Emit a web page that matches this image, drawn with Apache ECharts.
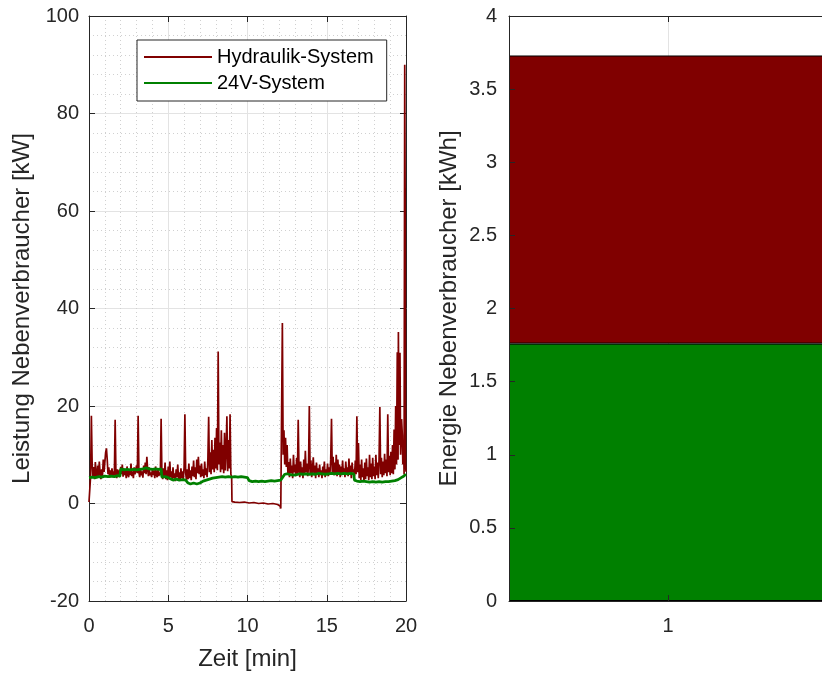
<!DOCTYPE html>
<html><head><meta charset="utf-8">
<script src="https://cdn.jsdelivr.net/npm/echarts@6/dist/echarts.min.js"></script>
<style>html,body{margin:0;padding:0;background:#fff}#c{width:822px;height:678px}</style>
</head><body><div id="c"></div>
<script>
// ---- data ----
const seriesNames = ['Hydraulik-System', '24V-System'];
// Hydraulik-System power [kW] vs. time [min]
const hydraulik = [
[0.00,0.3],[0.05,0.5],[0.10,5.5],[0.15,18.0],[0.20,8.0],[0.25,5.5],[0.30,7.5],[0.35,5.0],[0.40,8.5],[0.45,6.0],
[0.50,5.2],[0.55,7.8],[0.60,5.5],[0.65,8.6],[0.70,6.2],[0.75,5.0],[0.80,7.0],[0.85,5.6],[0.90,9.0],[0.95,6.5],
[1.00,8.5],[1.05,10.5],[1.10,11.3],[1.15,9.0],[1.20,6.0],[1.25,7.4],[1.30,5.3],[1.35,6.8],[1.40,5.6],[1.45,7.2],
[1.50,5.4],[1.55,6.6],[1.60,5.8],[1.65,17.2],[1.70,6.0],[1.75,5.2],[1.80,7.0],[1.85,5.6],[1.90,6.8],[1.95,5.4],
[2.00,7.5],[2.05,6.0],[2.10,8.0],[2.15,5.5],[2.20,7.2],[2.25,5.8],[2.30,6.8],[2.35,5.2],[2.40,7.6],[2.45,6.0],
[2.50,5.4],[2.55,7.0],[2.60,5.8],[2.65,8.2],[2.70,5.6],[2.75,6.6],[2.80,5.2],[2.85,7.4],[2.90,6.0],[2.95,5.6],
[3.00,7.8],[3.05,6.2],[3.10,18.0],[3.15,6.4],[3.20,5.4],[3.25,7.2],[3.30,5.8],[3.35,6.6],[3.40,5.3],[3.45,7.8],
[3.50,6.2],[3.55,8.4],[3.60,6.0],[3.65,9.6],[3.70,7.0],[3.75,5.6],[3.80,7.4],[3.85,5.8],[3.90,6.4],[3.95,5.4],
[4.00,7.2],[4.05,5.8],[4.10,6.8],[4.15,5.2],[4.20,7.6],[4.25,6.0],[4.30,5.4],[4.35,7.0],[4.40,5.6],[4.45,6.4],
[4.50,5.8],[4.55,17.4],[4.60,6.0],[4.65,5.0],[4.70,7.2],[4.75,5.4],[4.80,8.4],[4.85,5.0],[4.90,6.8],[4.95,4.8],
[5.00,7.6],[5.05,5.2],[5.10,8.6],[5.15,5.4],[5.20,6.6],[5.25,4.8],[5.30,7.4],[5.35,5.2],[5.40,6.2],[5.45,4.6],
[5.50,7.0],[5.55,5.4],[5.60,8.0],[5.65,5.0],[5.70,6.4],[5.75,4.8],[5.80,7.2],[5.85,5.2],[5.90,6.6],[5.95,5.0],
[6.00,7.4],[6.05,18.3],[6.10,6.2],[6.15,4.8],[6.20,7.0],[6.25,5.0],[6.30,8.2],[6.35,5.2],[6.40,6.8],[6.45,4.8],
[6.50,7.6],[6.55,5.6],[6.60,8.8],[6.65,5.4],[6.70,7.4],[6.75,5.0],[6.80,9.0],[6.85,6.2],[6.90,9.6],[6.95,6.0],
[7.00,7.8],[7.05,5.4],[7.10,8.2],[7.15,5.6],[7.20,7.0],[7.25,5.2],[7.30,8.6],[7.35,5.8],[7.40,7.2],[7.45,5.4],
[7.50,9.0],[7.55,17.8],[7.60,6.4],[7.65,10.5],[7.70,6.0],[7.75,13.0],[7.80,7.0],[7.85,11.0],[7.90,6.4],[7.95,13.5],
[8.00,7.2],[8.05,15.5],[8.10,6.8],[8.15,31.2],[8.20,8.0],[8.25,12.5],[8.30,6.4],[8.35,15.0],[8.40,7.0],[8.45,12.0],
[8.50,6.2],[8.55,14.5],[8.60,6.8],[8.65,11.0],[8.70,17.9],[8.75,6.6],[8.80,13.0],[8.85,7.2],[8.90,18.3],[8.95,6.0],
[9.00,5.5],[9.02,0.4],[9.20,0.3],[9.50,0.2],[9.80,0.3],[10.10,0.1],[10.40,0.2],[10.70,0.0],[11.00,0.1],[11.30,-0.1],
[11.60,0.0],[11.90,-0.2],[12.05,-0.5],[12.10,-1.0],[12.20,37.0],[12.25,10.0],[12.30,15.0],[12.35,8.0],[12.40,13.5],[12.45,7.5],
[12.50,12.0],[12.55,6.0],[12.60,8.5],[12.65,5.4],[12.70,9.2],[12.75,6.2],[12.80,7.8],[12.85,5.2],[12.90,10.0],[12.95,6.4],
[13.00,8.0],[13.05,5.6],[13.10,9.4],[13.15,6.0],[13.20,17.2],[13.25,6.8],[13.30,5.4],[13.35,8.6],[13.40,5.8],[13.45,7.4],
[13.50,5.2],[13.55,9.0],[13.60,6.0],[13.65,10.8],[13.70,6.4],[13.75,8.2],[13.80,5.6],[13.85,7.6],[13.90,20.0],[13.95,6.2],
[14.00,8.8],[14.05,5.4],[14.10,7.0],[14.15,9.5],[14.20,5.8],[14.25,7.8],[14.30,5.2],[14.35,8.4],[14.40,6.0],[14.45,7.2],
[14.50,5.4],[14.55,8.0],[14.60,5.8],[14.65,6.8],[14.70,5.2],[14.75,7.6],[14.80,6.0],[14.85,8.6],[14.90,5.4],[14.95,7.0],
[15.00,5.8],[15.05,8.2],[15.10,5.6],[15.15,7.4],[15.20,6.0],[15.25,9.0],[15.30,17.4],[15.35,6.2],[15.40,9.6],[15.45,5.8],
[15.50,8.4],[15.55,6.0],[15.60,10.0],[15.65,5.6],[15.70,9.0],[15.75,6.2],[15.80,8.0],[15.85,5.4],[15.90,7.6],[15.95,5.8],
[16.00,8.8],[16.05,6.0],[16.10,7.2],[16.15,5.4],[16.20,8.6],[16.25,6.2],[16.30,7.4],[16.35,5.6],[16.40,9.2],[16.45,6.0],
[16.50,7.8],[16.55,5.2],[16.60,8.4],[16.65,6.4],[16.70,7.0],[16.75,5.6],[16.80,8.8],[16.85,6.0],[16.90,17.9],[16.95,6.4],
[17.00,12.4],[17.05,5.2],[17.10,8.0],[17.15,4.8],[17.20,9.0],[17.25,5.4],[17.30,7.2],[17.35,4.6],[17.40,8.4],[17.45,5.0],
[17.50,9.2],[17.55,5.6],[17.60,7.4],[17.65,4.8],[17.70,10.0],[17.75,5.4],[17.80,8.2],[17.85,5.0],[17.90,9.4],[17.95,5.6],
[18.00,7.6],[18.05,5.0],[18.10,10.0],[18.15,5.8],[18.20,8.4],[18.25,5.2],[18.30,9.0],[18.35,19.8],[18.40,6.0],[18.45,9.4],
[18.50,5.4],[18.55,8.6],[18.60,5.8],[18.65,10.2],[18.70,6.2],[18.75,9.0],[18.80,5.6],[18.85,18.3],[18.90,6.4],[18.95,9.8],
[19.00,5.8],[19.05,10.6],[19.10,6.2],[19.15,12.0],[19.20,6.0],[19.25,15.2],[19.30,7.0],[19.35,20.0],[19.40,8.0],[19.45,31.0],
[19.50,9.0],[19.52,35.2],[19.56,12.0],[19.62,30.9],[19.66,10.0],[19.72,17.3],[19.77,14.0],[19.80,8.0],[19.85,12.0],[19.88,6.0],
[19.92,90.0],[19.95,60.0],[19.97,8.0],[20.00,6.5]
];
// 24V-System power [kW] vs. time [min]
const system24V = [
[0.00,5.3],[0.20,5.4],[0.40,5.3],[0.60,5.5],[0.80,5.4],[1.00,5.6],[1.20,5.5],[1.40,5.6],[1.60,5.5],[1.80,5.7],
[1.95,5.6],[2.00,7.1],[2.20,6.9],[2.40,7.0],[2.60,6.9],[2.80,7.0],[3.00,6.9],[3.20,7.0],[3.40,7.1],[3.60,7.3],
[3.80,7.1],[4.00,7.0],[4.20,7.1],[4.40,7.0],[4.55,7.1],[4.60,5.4],[4.80,5.5],[5.00,5.3],[5.10,4.9],[5.30,4.8],
[5.50,5.0],[5.70,4.8],[5.90,4.9],[6.10,4.8],[6.25,4.2],[6.40,4.0],[6.60,4.2],[6.80,4.0],[7.00,4.2],[7.20,4.6],
[7.40,4.8],[7.60,5.0],[7.80,5.2],[8.00,5.3],[8.20,5.4],[8.40,5.5],[8.60,5.4],[8.80,5.5],[9.00,5.4],[9.20,5.5],
[9.40,5.4],[9.60,5.5],[9.80,5.4],[10.00,5.3],[10.10,4.7],[10.30,4.5],[10.50,4.6],[10.70,4.5],[10.90,4.6],[11.10,4.5],
[11.30,4.6],[11.50,4.7],[11.70,4.6],[11.90,4.7],[12.10,4.8],[12.20,5.3],[12.35,6.0],[12.50,6.1],[12.70,5.9],[12.90,5.8],
[13.10,5.9],[13.30,6.1],[13.50,6.0],[13.70,6.1],[13.90,6.0],[14.10,6.1],[14.30,6.0],[14.50,6.2],[14.70,6.1],[14.90,6.0],
[15.10,6.1],[15.30,6.2],[15.50,6.1],[15.70,6.2],[15.90,6.1],[16.10,6.2],[16.30,6.1],[16.50,6.2],[16.70,6.1],[16.75,4.8],
[16.90,4.6],[17.10,4.5],[17.30,4.6],[17.50,4.5],[17.70,4.4],[17.90,4.5],[18.10,4.4],[18.30,4.5],[18.50,4.4],[18.70,4.5],
[18.90,4.5],[19.10,4.6],[19.30,4.7],[19.50,4.9],[19.70,5.3],[19.85,5.6],[20.00,6.0]
];
// Energy [kWh] per system (stacked bar, category "1")
const barCategory = ['1'];
const energy24V = [1.76];
const energyHydraulik = [1.97];
// tick labels
const xTicksLeft = [0, 5, 10, 15, 20];
const yTicksLeft = [-20, 0, 20, 40, 60, 80, 100];
const yTicksRight = [0, 0.5, 1, 1.5, 2, 2.5, 3, 3.5, 4];

// ---- chart ----
const FONT = '"Liberation Sans", Arial, Helvetica, sans-serif';
const AX = '#262626';
const RED = '#800000', GREEN = '#008000';
const grid0 = {left: 89, top: 16, width: 317, height: 585};
const grid1 = {left: 509, top: 16, width: 318, height: 585};
const tickFont = {fontFamily: FONT, fontSize: 20, color: AX};
const nameFont = {fontFamily: FONT, fontSize: 24, color: AX};
const majorGrid = {show: true, lineStyle: {color: '#e3e3e3', width: 1}};
const minorGrid = {show: true, lineStyle: {color: '#d0d0d0', width: 1, type: [1, 3]}};
const axLine = {show: true, onZero: false, lineStyle: {color: AX}};
const inTick = {show: true, inside: true, length: 6, lineStyle: {color: AX}};

const chart = echarts.init(document.getElementById('c'), null, {renderer: 'canvas'});
chart.setOption({
  animation: false,
  backgroundColor: '#fff',
  grid: [
    Object.assign({containLabel: false, outerBoundsMode: 'none'}, grid0),
    Object.assign({containLabel: false, outerBoundsMode: 'none'}, grid1)
  ],
  legend: {
    data: seriesNames,
    orient: 'vertical',
    left: 137, top: 40,
    padding: [6, 13, 7, 7],
    itemGap: 4,
    itemWidth: 68, itemHeight: 2,
    icon: 'rect',
    backgroundColor: '#fff',
    borderColor: AX, borderWidth: 1, borderRadius: 0,
    textStyle: {fontFamily: FONT, fontSize: 20, color: '#000', lineHeight: 22}
  },
  xAxis: [
    // 0: left plot bottom
    {gridIndex: 0, type: 'value', min: xTicksLeft[0], max: xTicksLeft[xTicksLeft.length-1], interval: 5,
     position: 'bottom', name: 'Zeit [min]', nameLocation: 'middle', nameGap: 46, nameTextStyle: nameFont,
     axisLine: axLine, axisTick: inTick,
     axisLabel: Object.assign({margin: 15}, tickFont),
     splitLine: majorGrid,
     minorTick: {show: false, splitNumber: 5},
     minorSplitLine: minorGrid},
    // 1: left plot top mirror
    {gridIndex: 0, type: 'value', min: 0, max: 20, interval: 5, position: 'top',
     axisLine: axLine, axisTick: inTick, axisLabel: {show: false}, splitLine: {show: false}},
    // 2: right plot category axis (bars)
    {gridIndex: 1, type: 'category', data: barCategory, position: 'bottom', boundaryGap: true,
     axisLine: axLine, axisTick: {show: false},
     axisLabel: Object.assign({margin: 15}, tickFont),
     splitLine: {show: false}},
    // 3: right plot vertical grid line at the category centre
    {gridIndex: 1, type: 'value', min: 0, max: 2, interval: 1, position: 'bottom',
     axisLine: {show: false}, axisTick: {show: false}, axisLabel: {show: false},
     splitLine: {show: true, lineStyle: {color: '#e3e3e3', width: 1}}},
    // 4: right plot top mirror with tick
    {gridIndex: 1, type: 'category', data: barCategory, position: 'top', boundaryGap: true, z: 5,
     axisLine: axLine, axisTick: Object.assign({alignWithLabel: true}, inTick),
     axisLabel: {show: false}, splitLine: {show: false}},
    // 5: right plot bottom tick drawn over bars
    {gridIndex: 1, type: 'category', data: barCategory, position: 'bottom', boundaryGap: true, z: 5,
     axisLine: {show: false}, axisTick: Object.assign({alignWithLabel: true}, inTick),
     axisLabel: {show: false}, splitLine: {show: false}}
  ],
  yAxis: [
    {gridIndex: 0, type: 'value', min: yTicksLeft[0], max: yTicksLeft[yTicksLeft.length-1], interval: 20,
     position: 'left', name: 'Leistung Nebenverbraucher [kW]', nameLocation: 'middle', nameGap: 55,
     nameTextStyle: nameFont,
     axisLine: axLine, axisTick: inTick,
     axisLabel: Object.assign({margin: 10}, tickFont),
     splitLine: majorGrid,
     minorTick: {show: false, splitNumber: 5},
     minorSplitLine: minorGrid},
    {gridIndex: 0, type: 'value', min: -20, max: 100, interval: 20, position: 'right',
     axisLine: axLine, axisTick: inTick, axisLabel: {show: false}, splitLine: {show: false}},
    {gridIndex: 1, type: 'value', min: yTicksRight[0], max: yTicksRight[yTicksRight.length-1], interval: 0.5,
     position: 'left', z: 5, name: 'Energie Nebenverbraucher [kWh]', nameLocation: 'middle', nameGap: 48,
     nameTextStyle: nameFont,
     axisLine: axLine, axisTick: inTick,
     axisLabel: Object.assign({margin: 12}, tickFont),
     splitLine: {show: false}}
  ],
  series: [
    {name: seriesNames[0], type: 'line', xAxisIndex: 0, yAxisIndex: 0, data: hydraulik,
     showSymbol: false, symbol: 'none', lineStyle: {color: RED, width: 1.7}, itemStyle: {color: RED}, z: 2},
    {name: seriesNames[1], type: 'line', xAxisIndex: 0, yAxisIndex: 0, data: system24V,
     showSymbol: false, symbol: 'none', lineStyle: {color: GREEN, width: 2.8}, itemStyle: {color: GREEN}, z: 3},
    {name: 'Energie 24V', type: 'bar', xAxisIndex: 2, yAxisIndex: 2, stack: 'e', barWidth: '100%',
     data: energy24V,
     itemStyle: {color: GREEN, borderColor: '#000', borderWidth: 1}},
    {name: 'Energie Hydraulik', type: 'bar', xAxisIndex: 2, yAxisIndex: 2, stack: 'e', barWidth: '100%',
     data: energyHydraulik,
     itemStyle: {color: RED, borderColor: '#000', borderWidth: 1}}
  ]
});
</script>
</body></html>
